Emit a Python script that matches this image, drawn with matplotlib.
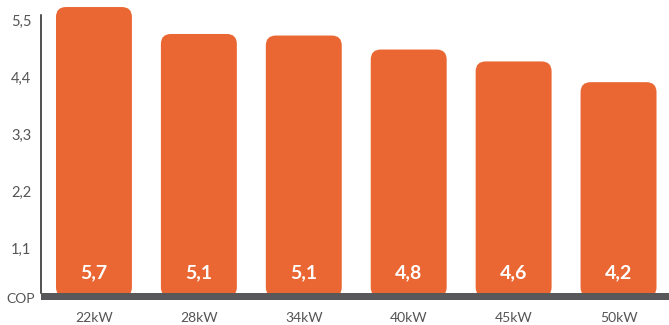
import matplotlib.pyplot as plt
from matplotlib.patches import FancyBboxPatch

# data
models = ["22kW", "28kW", "34kW", "40kW", "45kW", "50kW"]
bar_heights = [5.75, 5.23, 5.20, 4.93, 4.70, 4.30]
cop_text = ["5,7", "5,1", "5,1", "4,8", "4,6", "4,2"]
y_ticks = [1.1, 2.2, 3.3, 4.4, 5.5]

orange = "#EA6733"
grey = "#58585A"
text_grey = "#555555"

plt.rcParams["font.family"] = ["Lato", "DejaVu Sans"]

W, H = 669, 325
fig = plt.figure(figsize=(W / 100, H / 100), dpi=100)

# pixel layout: slot 105px, 0 at y=305px, 51.82 px per COP unit
slot_px = 105.0
unit_px = 51.82
left_px, bottom_px = 41, 310
ax = fig.add_axes([left_px / W, (H - bottom_px) / H, (W - left_px) / W, bottom_px / H])
x0 = -(94 - left_px) / slot_px
x1 = 5 + (W - 618.5) / slot_px
ax.set_xlim(x0, x1)
ax.set_ylim(-(bottom_px - 305) / unit_px, 305 / unit_px)

bar_w = 76 / slot_px
base = 0.15
aspect = slot_px / unit_px
radius = 10 / slot_px
for i, h in enumerate(bar_heights):
    p = FancyBboxPatch((i - bar_w / 2, base), bar_w, h - base,
                       boxstyle=f"round,pad=0,rounding_size={radius}",
                       mutation_aspect=aspect, fc=orange, ec="none", zorder=2)
    ax.add_patch(p)
    ax.text(i, 0.62, cop_text[i], ha="center", va="center", color="white",
            fontsize=14, fontweight="bold", zorder=4)

# grey base band
ax.axhspan((305 - 300) / unit_px, (305 - 293) / unit_px, color=grey, zorder=3, lw=0)

for s in ["top", "right", "bottom"]:
    ax.spines[s].set_visible(False)
ax.spines["left"].set_bounds((305 - 293) / unit_px, (305 - 15) / unit_px)
ax.spines["left"].set_linewidth(1.1)
ax.spines["left"].set_color("#222222")

ax.set_yticks(y_ticks)
ax.set_yticklabels([f"{v:.1f}".replace(".", ",") for v in y_ticks])
ax.tick_params(axis="y", length=0, pad=7, labelsize=10.5, labelcolor=text_grey)

ax.set_xticks(range(len(models)))
ax.set_xticklabels(models)
ax.tick_params(axis="x", length=0, pad=1.5, labelsize=10, labelcolor=text_grey)

fig.text(35 / W, 1 - 299 / H, "COP", ha="right", va="center", fontsize=10,
         color=text_grey)

plt.savefig("out.png", dpi=100)
